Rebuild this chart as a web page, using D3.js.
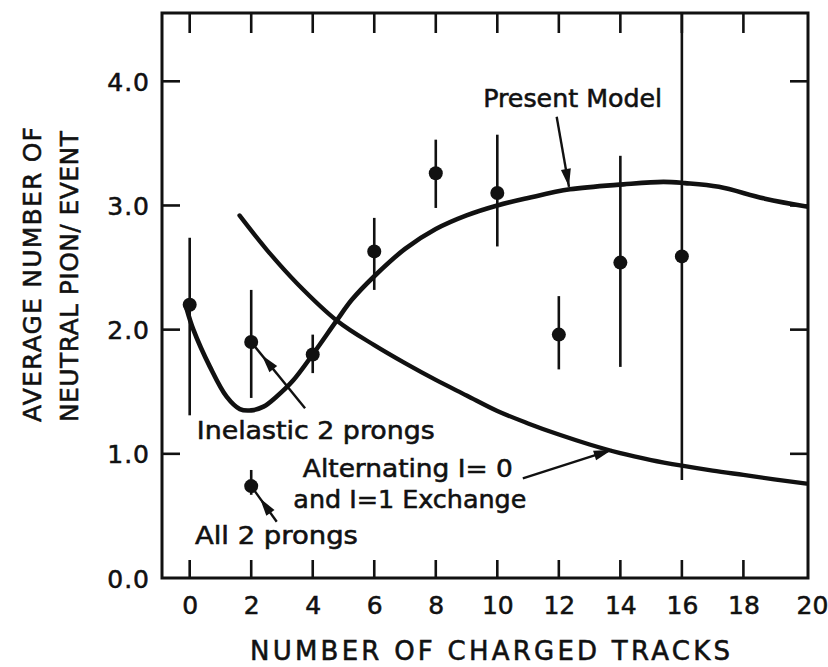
<!DOCTYPE html>
<html>
<head>
<meta charset="utf-8">
<script src="https://cdn.jsdelivr.net/npm/d3@7/dist/d3.min.js"></script>
<style>
  html, body { margin: 0; padding: 0; background: #fff; }
  svg { display: block; }
  text { font-family: "DejaVu Sans", "Liberation Sans", sans-serif; fill: #111; stroke: #111; stroke-width: 0.55px; }
</style>
</head>
<body>
<svg id="chart" width="828" height="667"></svg>
<script>
// ---------- data ----------
const xTickValues = [0, 2, 4, 6, 8, 10, 12, 14, 16, 18, 20];
const xTickLabels = ["0", "2", "4", "6", "8", "10", "12", "14", "16", "18", "20"];
const yTickValues = [0, 1, 2, 3, 4];
const yTickLabels = ["0.0", "1.0", "2.0", "3.0", "4.0"];

// Inelastic multiplicity data points
const tracks   = [0, 2, 4, 6, 8, 10, 12, 14, 16];
const meanPi0  = [2.20, 1.90, 1.80, 2.63, 3.26, 3.10, 1.96, 2.54, 2.59];
const errLow   = [1.31, 1.45, 1.65, 2.32, 2.98, 2.67, 1.68, 1.70, 0.79];
const errHigh  = [2.74, 2.32, 1.96, 2.90, 3.53, 3.57, 2.27, 3.40, 4.60];

// "All 2 prongs" point
const all2Tracks = [2];
const all2Mean   = [0.74];
const all2Low    = [0.67];
const all2High   = [0.87];

// "Present Model" curve
const modelX = [-0.1, 0.12, 0.66, 1.2, 1.63, 2.0, 2.4, 2.82, 3.36, 4.0, 4.77, 5.27, 6.0, 7.0, 8.0, 9.0, 10.0, 11.0, 12.36, 14.1, 15.4, 16.1, 17.2, 18.7, 20.1];
const modelY = [2.17, 2.0, 1.70, 1.46, 1.36, 1.35, 1.38, 1.46, 1.59, 1.80, 2.07, 2.24, 2.43, 2.65, 2.81, 2.92, 3.00, 3.06, 3.13, 3.17, 3.19, 3.18, 3.15, 3.055, 2.99];

// "Alternating I=0 and I=1 Exchange" curve
const altX = [1.62, 2.5, 3.5, 4.8, 6.0, 7.0, 8.0, 9.0, 10.0, 11.0, 12.0, 13.0, 14.0, 15.0, 16.0, 17.0, 18.0, 19.0, 20.05];
const altY = [2.92, 2.645, 2.37, 2.07, 1.875, 1.73, 1.595, 1.47, 1.345, 1.245, 1.155, 1.075, 1.005, 0.95, 0.905, 0.865, 0.83, 0.795, 0.76];

// annotation texts
const labelTexts = ["Present Model", "Inelastic 2 prongs", "Alternating I= 0", "and I=1 Exchange", "All 2 prongs"];
const xTitle = "NUMBER OF CHARGED TRACKS";
const yTitleLines = ["AVERAGE NUMBER OF", "NEUTRAL PION/ EVENT"];

// ---------- layout ----------
const svg = d3.select("#chart");
const pLeft = 162, pRight = 808, pTop = 13, pBottom = 578;
const x = d3.scaleLinear().domain([-0.9, 20.1]).range([pLeft, pRight]);
const y = d3.scaleLinear().domain([0, 4.55]).range([pBottom, pTop]);
const ink = "#111";
const tickLen = 18;

svg.append("defs").append("clipPath").attr("id", "plotclip")
  .append("rect").attr("x", pLeft).attr("y", pTop).attr("width", pRight - pLeft).attr("height", pBottom - pTop);

// frame
svg.append("rect").attr("x", pLeft).attr("y", pTop).attr("width", pRight - pLeft).attr("height", pBottom - pTop)
  .attr("fill", "none").attr("stroke", ink).attr("stroke-width", 3);

// inward tick marks on all four sides
const ticks = svg.append("g").attr("stroke", ink).attr("stroke-width", 2.6);
const xInner = xTickValues.filter(d => d < 20);
const yInner = yTickValues.filter(d => d > 0);
ticks.selectAll(null).data(xInner).enter().append("line")
  .attr("x1", d => x(d)).attr("x2", d => x(d)).attr("y1", pBottom).attr("y2", pBottom - tickLen);
ticks.selectAll(null).data(xInner).enter().append("line")
  .attr("x1", d => x(d)).attr("x2", d => x(d)).attr("y1", pTop).attr("y2", pTop + tickLen + 2);
ticks.selectAll(null).data(yInner).enter().append("line")
  .attr("x1", pLeft).attr("x2", pLeft + tickLen).attr("y1", d => y(d)).attr("y2", d => y(d));
ticks.selectAll(null).data(yInner).enter().append("line")
  .attr("x1", pRight).attr("x2", pRight - tickLen).attr("y1", d => y(d)).attr("y2", d => y(d));

// tick labels via d3 axes (tick lines suppressed)
const gB = svg.append("g").attr("transform", `translate(0,${pBottom})`)
  .call(d3.axisBottom(x).tickValues(xTickValues).tickSize(0)
        .tickFormat((d, i) => xTickLabels[i]));
gB.select(".domain").remove();
gB.selectAll(".tick line").remove();
gB.selectAll(".tick text").attr("y", 36).attr("dy", 0)
  .attr("font-size", 25).attr("fill", ink)
  .attr("dx", d => d === 20 ? 7 : 0);

const gL = svg.append("g").attr("transform", `translate(${pLeft},0)`)
  .call(d3.axisLeft(y).tickValues(yTickValues).tickSize(0)
        .tickFormat((d, i) => yTickLabels[i]));
gL.select(".domain").remove();
gL.selectAll(".tick line").remove();
gL.selectAll(".tick text").attr("x", -12).attr("dy", "0.36em")
  .attr("font-size", 25).attr("fill", ink).attr("letter-spacing", 1);

// axis titles
svg.append("text").attr("x", 250).attr("y", 660).attr("font-size", 26)
  .attr("textLength", 480).attr("lengthAdjust", "spacing").text(xTitle);

const yTitleX = [41, 78];
const yTitleLen = [295, 291];
yTitleLines.forEach((t, i) => {
  svg.append("text").attr("transform", `translate(${yTitleX[i]},422) rotate(-90)`)
    .attr("font-size", 25).attr("textLength", yTitleLen[i]).attr("lengthAdjust", "spacing").text(t);
});

// curves
const line = d3.line().x(d => x(d[0])).y(d => y(d[1])).curve(d3.curveCatmullRom.alpha(0.5));
const plot = svg.append("g").attr("clip-path", "url(#plotclip)");
plot.append("path").datum(modelX.map((v, i) => [v, modelY[i]]))
  .attr("d", line).attr("fill", "none").attr("stroke", ink).attr("stroke-width", 4.6)
  .attr("stroke-linecap", "round");
plot.append("path").datum(altX.map((v, i) => [v, altY[i]]))
  .attr("d", line).attr("fill", "none").attr("stroke", ink).attr("stroke-width", 4.3)
  .attr("stroke-linecap", "round");

// error bars + points
function drawPoints(xs, ys, lo, hi) {
  const pts = xs.map((v, i) => ({ x: v, y: ys[i], lo: lo[i], hi: hi[i] }));
  plot.selectAll(null).data(pts).enter().append("line")
    .attr("x1", d => x(d.x)).attr("x2", d => x(d.x))
    .attr("y1", d => y(d.lo)).attr("y2", d => y(d.hi))
    .attr("stroke", ink).attr("stroke-width", 2.6);
  plot.selectAll(null).data(pts).enter().append("circle")
    .attr("cx", d => x(d.x)).attr("cy", d => y(d.y)).attr("r", 7).attr("fill", ink);
}
drawPoints(tracks, meanPi0, errLow, errHigh);
drawPoints(all2Tracks, all2Mean, all2Low, all2High);

// annotation arrows: [fromX, fromY, tipX, tipY, headOffsetPx]
const arrowDefs = [
  [11.93, 3.715, 12.33, 3.15, 0],     // Present Model
  [3.75, 1.367, 2, 1.90, 17],        // Inelastic 2 prongs
  [2.83, 0.453, 2, 0.74, 15],        // All 2 prongs
  [10.83, 0.803, 13.72, 1.031, 0]    // Alternating
];
arrowDefs.forEach(a => {
  const x0 = x(a[0]), y0 = y(a[1]), x1 = x(a[2]), y1 = y(a[3]);
  svg.append("line").attr("x1", x0).attr("y1", y0).attr("x2", x1).attr("y2", y1)
    .attr("stroke", ink).attr("stroke-width", 2.4);
  const dx = x1 - x0, dy = y1 - y0, L = Math.hypot(dx, dy);
  const ux = dx / L, uy = dy / L;
  const tx = x1 - ux * a[4], ty = y1 - uy * a[4];
  const hl = 18, hw = 5;
  const bx = tx - ux * hl, by = ty - uy * hl;
  svg.append("path")
    .attr("d", `M${tx},${ty} L${bx - uy * hw},${by + ux * hw} L${bx + uy * hw},${by - ux * hw} Z`)
    .attr("fill", ink);
});

// annotation labels: [text index, x (data), baseline y (data), length px]
const labelPos = [
  [0, 9.54, 3.795, 179],
  [1, 0.23, 1.117, 238],
  [2, 3.68, 0.816, 210],
  [3, 3.37, 0.566, 233],
  [4, 0.17, 0.274, 163]
];
labelPos.forEach(p => {
  svg.append("text").attr("x", x(p[1])).attr("y", y(p[2])).attr("font-size", 24)
    .attr("textLength", p[3]).attr("lengthAdjust", "spacingAndGlyphs").text(labelTexts[p[0]]);
});
</script>
</body>
</html>
